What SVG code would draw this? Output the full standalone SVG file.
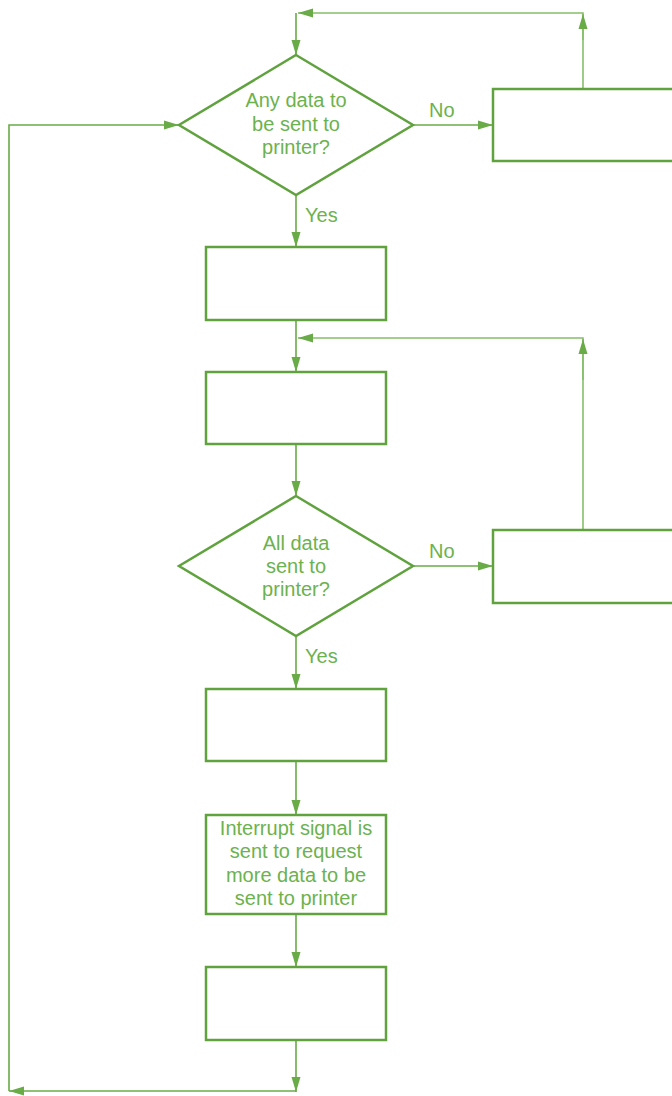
<svg xmlns="http://www.w3.org/2000/svg" width="672" height="1096" viewBox="0 0 672 1096">
<style>
.box{fill:#fff;stroke:#5fa23e;stroke-width:2.5}
.con{fill:none;stroke:#68ab47;stroke-width:1.6}
.lt{stroke:#86bf6a}
.t{font-family:"Liberation Sans",Arial,sans-serif;font-size:20px;fill:#6cb24e;text-anchor:middle}
.l{font-family:"Liberation Sans",Arial,sans-serif;font-size:20px;fill:#6cb24e}
</style>
<defs>
<marker id="ah" markerUnits="userSpaceOnUse" markerWidth="16" markerHeight="10" refX="15" refY="5" orient="auto">
<path d="M0,0.5 L15,5 L0,9.5 z" fill="#68ab47"/>
</marker>
</defs>
<g id="connectors">
<polyline class="con lt" points="583,89 583,13 298,13" marker-end="url(#ah)"/>
<line class="con lt" x1="583" y1="40" x2="583" y2="14" marker-end="url(#ah)"/>
<polyline class="con" points="296,13 296,55" marker-end="url(#ah)"/>
<line class="con" x1="413" y1="125" x2="493" y2="125" marker-end="url(#ah)"/>
<line class="con" x1="296" y1="195" x2="296" y2="247" marker-end="url(#ah)"/>
<line class="con" x1="296" y1="320" x2="296" y2="372" marker-end="url(#ah)"/>
<polyline class="con lt" points="583,530 583,338 298,338" marker-end="url(#ah)"/>
<line class="con lt" x1="583" y1="380" x2="583" y2="339" marker-end="url(#ah)"/>
<line class="con" x1="296" y1="444" x2="296" y2="496" marker-end="url(#ah)"/>
<line class="con" x1="413" y1="566" x2="493" y2="566" marker-end="url(#ah)"/>
<line class="con" x1="296" y1="636" x2="296" y2="689" marker-end="url(#ah)"/>
<line class="con" x1="296" y1="761" x2="296" y2="815" marker-end="url(#ah)"/>
<line class="con" x1="296" y1="914" x2="296" y2="967" marker-end="url(#ah)"/>
<line class="con" x1="296" y1="1040" x2="296" y2="1092" marker-end="url(#ah)"/>
<polyline class="con" points="296,1091 9,1091" marker-end="url(#ah)"/>
<polyline class="con" points="9,1091 9,125 179,125" marker-end="url(#ah)"/>
<text class="l" x="429" y="117">No</text>
<text class="l" x="305" y="222">Yes</text>
<text class="l" x="429" y="558">No</text>
<text class="l" x="305" y="663">Yes</text>
</g>
<g id="d1">
<polygon class="box" points="296,55 413,125 296,195 179,125"/>
<text class="t" x="296" y="107">Any data to</text>
<text class="t" x="296" y="131">be sent to</text>
<text class="t" x="296" y="154">printer?</text>
</g>
<g id="r1"><rect class="box" x="493" y="89" width="182" height="72"/></g>
<g id="b2"><rect class="box" x="206" y="247" width="180" height="73"/></g>
<g id="b3"><rect class="box" x="206" y="372" width="180" height="72"/></g>
<g id="d2">
<polygon class="box" points="296,496 413,566 296,636 179,566"/>
<text class="t" x="296" y="550">All data</text>
<text class="t" x="296" y="573">sent to</text>
<text class="t" x="296" y="596">printer?</text>
</g>
<g id="r2"><rect class="box" x="493" y="530" width="182" height="73"/></g>
<g id="b4"><rect class="box" x="206" y="689" width="180" height="72"/></g>
<g id="b5">
<rect class="box" x="206" y="815" width="180" height="99"/>
<text class="t" x="296" y="835">Interrupt signal is</text>
<text class="t" x="296" y="858">sent to request</text>
<text class="t" x="296" y="882">more data to be</text>
<text class="t" x="296" y="905">sent to printer</text>
</g>
<g id="b6"><rect class="box" x="206" y="967" width="180" height="73"/></g>
</svg>
